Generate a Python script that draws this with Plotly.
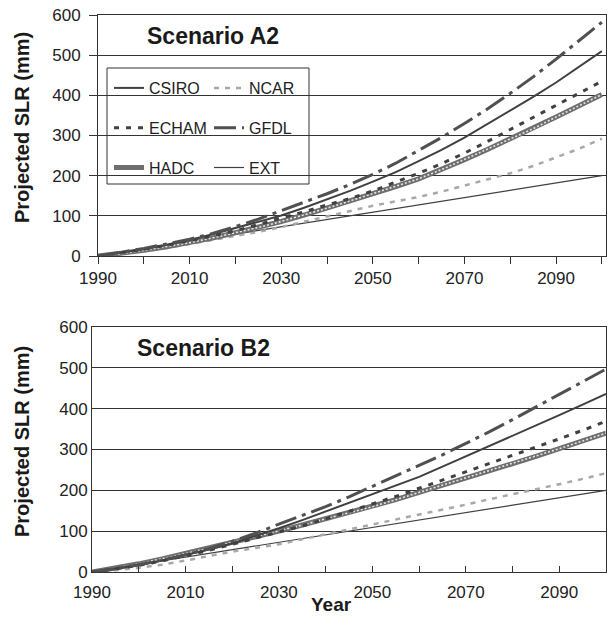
import plotly.graph_objects as go

# ---------------- data ----------------
years = [1990, 1995, 2000, 2005, 2010, 2015, 2020, 2025, 2030, 2035, 2040, 2045,
         2050, 2055, 2060, 2065, 2070, 2075, 2080, 2085, 2090, 2095, 2100]

a2_gfdl  = [0, 9, 19, 30, 42, 56, 73, 92, 113, 134, 155, 178, 203, 231, 262, 295, 330, 366, 405, 446, 490, 535, 582]
a2_csiro = [0, 8, 17, 28, 40, 54, 70, 85, 101, 120, 141, 162, 185, 209, 236, 264, 295, 328, 362, 396, 432, 470, 510]
a2_echam = [0, 8, 17, 27, 38, 50, 63, 78, 95, 110, 127, 143, 162, 183, 206, 230, 256, 285, 315, 345, 376, 405, 435]
a2_hadc  = [0, 6, 14, 23, 33, 45, 58, 71, 86, 102, 119, 137, 155, 173, 192, 215, 240, 265, 291, 317, 346, 374, 402]
a2_ncar  = [0, 5, 12, 20, 30, 40, 50, 60, 72, 85, 98, 112, 125, 136, 147, 160, 175, 190, 206, 224, 245, 267, 292]

b2_gfdl  = [0, 8, 18, 29, 42, 57, 75, 95, 117, 138, 160, 184, 209, 235, 261, 287, 314, 343, 373, 403, 435, 466, 497]
b2_csiro = [0, 8, 17, 28, 41, 55, 70, 88, 107, 127, 148, 169, 190, 211, 233, 258, 283, 308, 333, 358, 384, 410, 436]
b2_echam = [0, 8, 16, 27, 40, 53, 68, 83, 98, 113, 130, 148, 166, 185, 205, 225, 245, 265, 285, 305, 326, 347, 369]
b2_hadc  = [0, 9, 20, 32, 45, 58, 72, 86, 100, 115, 130, 145, 160, 177, 195, 212, 230, 247, 265, 283, 302, 321, 340]
b2_ncar  = [0, 4, 10, 18, 28, 39, 50, 59, 68, 80, 92, 104, 116, 128, 140, 152, 165, 178, 190, 202, 215, 228, 242]

ext_years = [1990, 2100]
ext_vals = [0, 200]

x_tick_vals = [1990, 2000, 2010, 2020, 2030, 2040, 2050, 2060, 2070, 2080, 2090, 2100]
x_tick_text = ["1990", "", "2010", "", "2030", "", "2050", "", "2070", "", "2090", ""]
y_tick_vals = [0, 100, 200, 300, 400, 500, 600]

panels = [
    dict(xa="x", ya="y", gfdl=a2_gfdl, csiro=a2_csiro, echam=a2_echam, hadc=a2_hadc, ncar=a2_ncar, legend=True),
    dict(xa="x2", ya="y2", gfdl=b2_gfdl, csiro=b2_csiro, echam=b2_echam, hadc=b2_hadc, ncar=b2_ncar, legend=False),
]

W, H = 611, 628
FONT = "Liberation Sans, Arial, sans-serif"
DARK = "#404040"

fig = go.Figure()

for p in panels:
    sl = p["legend"]
    common = dict(xaxis=p["xa"], yaxis=p["ya"], mode="lines")
    fig.add_trace(go.Scatter(x=ext_years, y=ext_vals, name="EXT", legend="legend2", legendrank=3,
                             legendgroup="EXT", showlegend=sl,
                             line=dict(color=DARK, width=1.2), **common))
    fig.add_trace(go.Scatter(x=years, y=p["ncar"], name="NCAR", legend="legend2", legendrank=1,
                             legendgroup="NCAR", showlegend=sl,
                             line=dict(color="#a8a8a8", width=2.5, dash="5px,6px"), **common))
    fig.add_trace(go.Scatter(x=years, y=p["hadc"], name="HADC", legend="legend", legendrank=3,
                             legendgroup="HADC", showlegend=sl,
                             line=dict(color="#6e6e6e", width=5), **common))
    fig.add_trace(go.Scatter(x=years, y=p["hadc"], name="HADC", legendgroup="HADC", showlegend=False,
                             line=dict(color="#e6e6e6", width=1.6, dash="2px,2px"), hoverinfo="skip", **common))
    fig.add_trace(go.Scatter(x=years, y=p["echam"], name="ECHAM", legend="legend", legendrank=2,
                             legendgroup="ECHAM", showlegend=sl,
                             line=dict(color=DARK, width=3, dash="5px,7px"), **common))
    fig.add_trace(go.Scatter(x=years, y=p["csiro"], name="CSIRO", legend="legend", legendrank=1,
                             legendgroup="CSIRO", showlegend=sl,
                             line=dict(color=DARK, width=2), **common))
    fig.add_trace(go.Scatter(x=years, y=p["gfdl"], name="GFDL", legend="legend2", legendrank=2,
                             legendgroup="GFDL", showlegend=sl,
                             line=dict(color="#505050", width=3, dash="22px,6px,4px,6px"), **common))

def py(v):  # pixel y (from top) -> paper fraction
    return 1 - v / H

def px(v):
    return v / W

axis_common = dict(showline=True, mirror=True, linecolor="#333", linewidth=1, automargin=False,
                   tickfont=dict(family=FONT, size=17, color="#222"), zeroline=False)

fig.update_layout(
    width=W, height=H,
    margin=dict(l=0, r=0, t=0, b=0, autoexpand=False),
    paper_bgcolor="white", plot_bgcolor="white",
    font=dict(family=FONT, color="#222"),
    xaxis=dict(domain=[px(98), px(606)], range=[1990, 2100.9], anchor="y",
               tickmode="array", tickvals=x_tick_vals, ticktext=x_tick_text,
               ticks="outside", ticklen=7, tickcolor="#333", showgrid=False, **axis_common),
    yaxis=dict(domain=[py(256), py(15)], range=[0, 600], anchor="x",
               tickmode="array", tickvals=y_tick_vals, ticklabelstandoff=5,
               ticks="outside", ticklen=8, tickcolor="#333",
               showgrid=True, gridcolor="#333", gridwidth=1, **axis_common),
    xaxis2=dict(domain=[px(92), px(606)], range=[1990, 2100], anchor="y2",
                tickmode="array", tickvals=x_tick_vals, ticktext=x_tick_text, ticklabelstandoff=5,
                ticks="inside", ticklen=6, tickcolor="#333", showgrid=False, **axis_common),
    yaxis2=dict(domain=[py(572), py(327)], range=[0, 600], anchor="x2",
                tickmode="array", tickvals=y_tick_vals, ticks="",
                showgrid=True, gridcolor="#333", gridwidth=1, **axis_common),
    legend=dict(x=px(109), y=py(71), xanchor="left", yanchor="top",
                bgcolor="rgba(0,0,0,0)", borderwidth=0, traceorder="grouped",
                tracegroupgap=16, font=dict(family=FONT, size=16, color="#222")),
    legend2=dict(x=px(209), y=py(71), xanchor="left", yanchor="top",
                 bgcolor="rgba(0,0,0,0)", borderwidth=0, traceorder="grouped",
                 tracegroupgap=16, font=dict(family=FONT, size=16, color="#222")),
    shapes=[dict(type="rect", xref="paper", yref="paper",
                 x0=px(107), x1=px(309), y0=py(184), y1=py(68),
                 line=dict(color="#333", width=1), fillcolor="white", layer="below")],
    annotations=[
        dict(text="<b>Scenario A2</b>", x=px(213), y=py(36), xref="paper", yref="paper",
             showarrow=False, xanchor="center", yanchor="middle",
             font=dict(family=FONT, size=23, color="#1a1a1a")),
        dict(text="<b>Scenario B2</b>", x=px(203), y=py(348), xref="paper", yref="paper",
             showarrow=False, xanchor="center", yanchor="middle",
             font=dict(family=FONT, size=23, color="#1a1a1a")),
        dict(text="<b>Projected SLR (mm)</b>", x=px(22), y=py(128), xref="paper", yref="paper",
             showarrow=False, xanchor="center", yanchor="middle", textangle=-90,
             font=dict(family=FONT, size=20, color="#1a1a1a")),
        dict(text="<b>Projected SLR (mm)</b>", x=px(22), y=py(442), xref="paper", yref="paper",
             showarrow=False, xanchor="center", yanchor="middle", textangle=-90,
             font=dict(family=FONT, size=20, color="#1a1a1a")),
        dict(text="<b>Year</b>", x=px(331), y=py(604), xref="paper", yref="paper",
             showarrow=False, xanchor="center", yanchor="middle",
             font=dict(family=FONT, size=19, color="#1a1a1a")),
    ],
)

fig.write_html("out.html", config={"displayModeBar": False},
               post_script="document.body.style.margin='0';")
